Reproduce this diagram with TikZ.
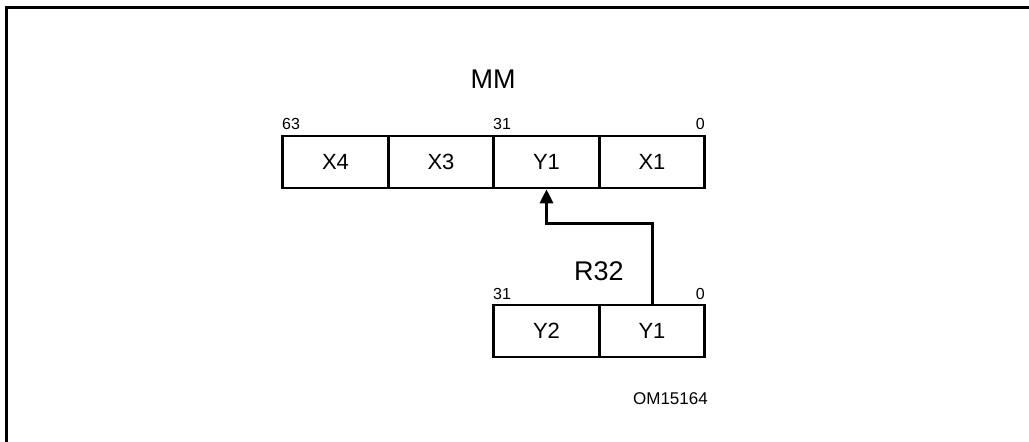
\documentclass[tikz,border=0pt]{standalone}
\usepackage{fontspec}
\setmainfont{Liberation Sans}
\usetikzlibrary{arrows.meta}
\tikzset{
  cell/.style={draw, line width=2.6pt, minimum width=105.5pt, minimum height=52pt, inner sep=0pt, font=\fontsize{22}{22}\selectfont},
  bitlbl/.style={inner sep=0pt, font=\fontsize{16}{16}\selectfont},
  title/.style={inner sep=0pt, font=\fontsize{27}{27}\selectfont},
  frameline/.style={line width=3pt},
  link/.style={line width=3pt, -{Triangle[length=14pt,width=13pt]}},
}
\begin{document}
\begin{tikzpicture}[x=1pt,y=-1pt]
\useasboundingbox (0,0) rectangle (1029,442);
% frame (only top and left visible)
\draw[frameline] (6,442) -- (6,7) -- (1029,7);
% MM register
\node[title, anchor=base] (mm) at (493,88) {MM};
\node[cell] (x4) at (335.5,162) {X4};
\node[cell] (x3) at (441,162) {X3};
\node[cell] (y1a) at (546.5,162) {Y1};
\node[cell] (x1) at (652,162) {X1};
\node[bitlbl, anchor=base west] (b63) at (282,129) {63};
\node[bitlbl, anchor=base west] (b31a) at (493,129) {31};
\node[bitlbl, anchor=base east] (b0a) at (705,129) {0};
% R32 register
\node[title, anchor=base] (r32) at (599,280) {R32};
\node[cell] (y2) at (546.5,331) {Y2};
\node[cell] (y1b) at (652,331) {Y1};
\node[bitlbl, anchor=base west] (b31b) at (493,299) {31};
\node[bitlbl, anchor=base east] (b0b) at (705,299) {0};
% connector
\coordinate (c1) at (y1b.north |- 0,223);
\coordinate (c2) at (y1a.south |- 0,223);
\draw[link] (y1b.north) -- (c1) -- (c2) -- (y1a.south);
% figure id
\node[inner sep=0pt, font=\fontsize{17}{17}\selectfont, anchor=base east] (om) at (708,404) {OM15164};
\end{tikzpicture}
\end{document}
